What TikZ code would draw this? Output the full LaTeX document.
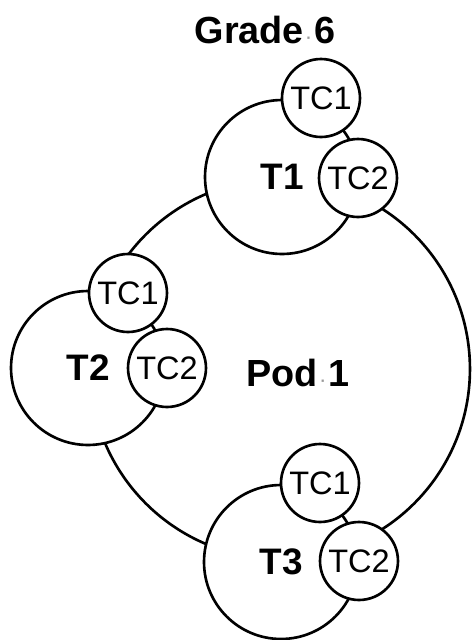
\documentclass[tikz,border=0pt]{standalone}
\usepackage{fontspec}
\setmainfont{Liberation Sans}
% faint visible space marker between words
\newcommand\spacemark{\hbox to 0.28em{\hss{\color{black!40}\fontsize{9pt}{9pt}\selectfont ·}\hss}}
\begin{document}
\begin{tikzpicture}[x=0.02cm,y=-0.02cm,
  ring/.style={circle,draw,line width=1.5pt,inner sep=0pt},
  teacher/.style={ring,fill=white,minimum size=3.08cm,font=\bfseries\fontsize{21pt}{21pt}\selectfont},
  coteacher/.style={ring,fill=white,minimum size=1.56cm,font=\fontsize{18.5pt}{18.5pt}\selectfont},
  biglabel/.style={font=\bfseries\fontsize{21.5pt}{21.5pt}\selectfont}]
\useasboundingbox (0,0) rectangle (471,640);

% the pod
\node[ring,minimum size=7.6cm] (pod) at (280,369) {};
\node[biglabel] (podlabel) at (298,373) {Pod\spacemark 1};
\node[biglabel] (grade) at (265,30) {Grade\spacemark 6};

% team 1
\node[teacher] (t1) at (282,177) {T1};
\node[coteacher] (t1c1) at (321,98) {TC1};
\node[coteacher] (t1c2) at (358,178) {TC2};

% team 2
\node[teacher] (t2) at (88,368) {T2};
\node[coteacher] (t2c1) at (128,293) {TC1};
\node[coteacher] (t2c2) at (167,368) {TC2};

% team 3
\node[teacher] (t3) at (281,562) {T3};
\node[coteacher] (t3c1) at (320,483) {TC1};
\node[coteacher] (t3c2) at (359,561) {TC2};
\end{tikzpicture}
\end{document}
